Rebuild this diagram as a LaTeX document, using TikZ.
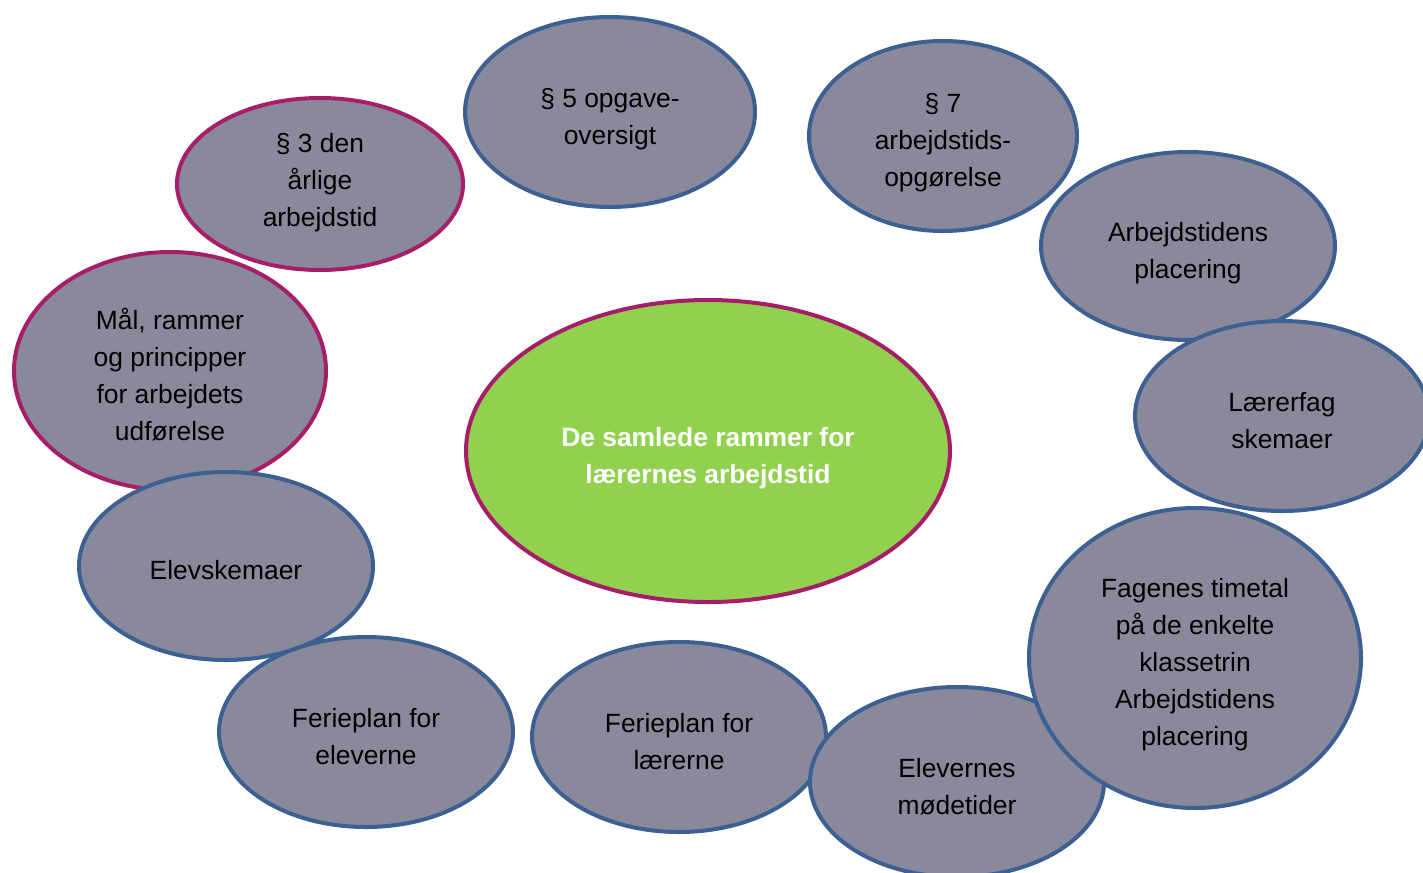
\documentclass[tikz,border=0pt]{standalone}
\usepackage{fontspec}
\setmainfont{Liberation Sans}
\usetikzlibrary{shapes.geometric}
\definecolor{bubblefill}{RGB}{138,137,155}
\definecolor{bubbleblue}{RGB}{60,96,145}
\definecolor{bubblemag}{RGB}{166,30,104}
\definecolor{centergreen}{RGB}{146,208,80}
\newcommand{\btxt}[2][29pt]{\begin{tabular}{@{}c@{}}\rule{0pt}{#1}#2\end{tabular}}
\tikzset{
  bubble/.style={ellipse, fill=bubblefill, line width=3pt, inner sep=0pt, outer sep=0pt,
     font=\fontsize{19.8}{27.8}\selectfont, text=black},
  bluebubble/.style={bubble, draw=bubbleblue},
  magbubble/.style={bubble, draw=bubblemag},
  centerbubble/.style={ellipse, fill=centergreen, draw=bubblemag, line width=3pt, inner sep=0pt,
     font=\fontsize{19.8}{27.8}\selectfont\bfseries, text=white},
}
\begin{document}
\begin{tikzpicture}[x=0.75pt,y=-0.75pt]
\useasboundingbox (0,0) rectangle (1423,872);
\clip (0,0) rectangle (1423,872);
\node[centerbubble, minimum width=363pt, minimum height=226.5pt] (center) at (708,451) {\btxt{De samlede rammer for\\lærernes arbejdstid}};
\node[bluebubble, minimum width=217.5pt, minimum height=142.5pt] (p5) at (610,112) {\btxt{§ 5 opgave-\\oversigt}};
\node[bluebubble, minimum width=201pt, minimum height=142.5pt] (p7) at (943,136) {\btxt{§ 7\\arbejdstids-\\opgørelse}};
\node[magbubble, minimum width=214.5pt, minimum height=129pt] (p3) at (320,184) {\btxt[19pt]{§ 3 den\\årlige\\arbejdstid\rule[-11pt]{0pt}{0pt}}};
\node[magbubble, minimum width=234pt, minimum height=178.5pt] (maal) at (170,371) {\btxt{Mål, rammer\\og principper\\for arbejdets\\udførelse}};
\node[bluebubble, minimum width=220.5pt, minimum height=141pt] (elevskema) at (226,566) {\btxt{Elevskemaer}};
\node[bluebubble, minimum width=220.5pt, minimum height=142.5pt] (ferieelev) at (366,732) {\btxt{Ferieplan for\\eleverne}};
\node[bluebubble, minimum width=220.5pt, minimum height=142.5pt] (ferielaerer) at (679,737) {\btxt{Ferieplan for\\lærerne}};
\node[bluebubble, minimum width=220.5pt, minimum height=142.5pt] (moede) at (957,782) {\btxt{Elevernes\\mødetider}};
\node[bluebubble, minimum width=249pt, minimum height=225pt] (fag) at (1195,658) {\btxt{Fagenes timetal\\på de enkelte\\klassetrin\\Arbejdstidens\\placering}};
\node[bluebubble, minimum width=220.5pt, minimum height=141pt] (placering) at (1188,246) {\btxt{Arbejdstidens\\placering}};
\node[bluebubble, minimum width=220.5pt, minimum height=142.5pt] (laererfag) at (1282,416) {\btxt{Lærerfag\\skemaer}};
\end{tikzpicture}
\end{document}
